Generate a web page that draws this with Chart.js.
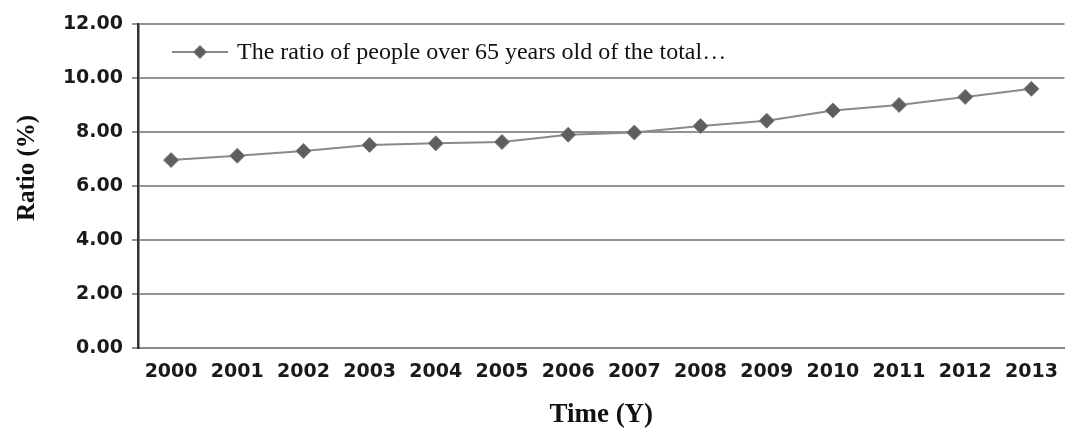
<!DOCTYPE html>
<html>
<head>
<meta charset="utf-8">
<script src="https://cdn.jsdelivr.net/npm/chart.js@4"></script>
<style>
  html, body { margin: 0; padding: 0; background: #fff; overflow: hidden; }
  #wrap { width: 1073px; height: 433px; position: relative; }
</style>
</head>
<body>
<div id="wrap"><canvas id="chart"></canvas></div>
<script>
const years = ['2000', '2001', '2002', '2003', '2004', '2005', '2006', '2007', '2008', '2009', '2010', '2011', '2012', '2013'];
const ratioOver65 = [6.96, 7.12, 7.3, 7.52, 7.58, 7.63, 7.9, 7.98, 8.22, 8.42, 8.8, 9.0, 9.3, 9.6];
const seriesLabel = 'The ratio of people over 65 years old of the total\u2026';
const yTitle = 'Ratio (%)';
const yTicks = [0, 2, 4, 6, 8, 10, 12];

// legend drawn inside the plot, top left, line + diamond like the original
// plus the y title, which sits a bit above the axis middle in the original
const insideLegend = {
  id: 'insideLegend',
  afterDraw(chart) {
    const ctx = chart.ctx;
    const area = chart.chartArea;
    const y = area.top + 28;
    const x0 = area.left + 34;
    ctx.save();
    ctx.strokeStyle = '#8a8a8a';
    ctx.lineWidth = 2;
    ctx.beginPath();
    ctx.moveTo(x0, y);
    ctx.lineTo(x0 + 56, y);
    ctx.stroke();
    ctx.fillStyle = '#5e5e5e';
    ctx.strokeStyle = '#7a7a7a';
    ctx.lineWidth = 1;
    Chart.helpers.drawPoint(ctx, { pointStyle: 'rectRot', radius: 6.5, borderWidth: 1 }, x0 + 28, y);
    ctx.fillStyle = '#111';
    ctx.font = '24px "Liberation Serif", "Times New Roman", serif';
    ctx.textBaseline = 'middle';
    ctx.fillText(seriesLabel, x0 + 65, y + 1);

    ctx.translate(28, area.top + 144);
    ctx.rotate(-Math.PI / 2);
    ctx.textAlign = 'center';
    ctx.font = 'bold 25px "Liberation Serif", "Times New Roman", serif';
    ctx.fillText(yTitle, 0, 0);
    ctx.restore();
  }
};

const ctx = document.getElementById('chart').getContext('2d');
const chart = new Chart(ctx, {
  type: 'line',
  data: {
    labels: years,
    datasets: [{
      label: seriesLabel,
      data: ratioOver65,
      borderColor: '#8a8a8a',
      borderWidth: 2,
      pointStyle: 'rectRot',
      pointRadius: 7.5,
      pointBackgroundColor: '#5e5e5e',
      pointBorderColor: '#7a7a7a',
      pointBorderWidth: 1,
      tension: 0,
      fill: false
    }]
  },
  options: {
    responsive: true,
    maintainAspectRatio: false,
    animation: false,
    layout: { padding: { top: 24, right: 0, left: 0, bottom: 0 } },
    plugins: {
      legend: { display: false },
      tooltip: { enabled: false }
    },
    scales: {
      x: {
        offset: true,
        grid: { display: false, drawTicks: false },
        border: { display: true, color: '#8a8a8a', width: 2 },
        ticks: {
          color: '#1a1a1a',
          padding: 13,
          maxRotation: 0,
          autoSkip: false,
          font: { family: '"DejaVu Sans", sans-serif', size: 19, weight: 'bold' }
        },
        title: {
          display: true,
          text: 'Time (Y)',
          color: '#111',
          padding: { top: 4, bottom: 4 },
          font: { family: '"Liberation Serif", "Times New Roman", serif', size: 27, weight: 'bold', lineHeight: 1 }
        },
        afterFit(scale) { scale.height = 85; }
      },
      y: {
        min: 0,
        max: 12,
        afterBuildTicks(scale) { scale.ticks = yTicks.map(v => ({ value: v })); },
        grid: { color: '#939393', lineWidth: 2, drawTicks: true, tickLength: 6 },
        border: { display: true, color: '#333', width: 2.5 },
        ticks: {
          color: '#1a1a1a',
          padding: 9,
          font: { family: '"DejaVu Sans", sans-serif', size: 19, weight: 'bold' },
          callback: v => Number(v).toFixed(2)
        },
        afterFit(scale) { scale.width = 138; }
      }
    }
  },
  plugins: [insideLegend]
});
</script>
</body>
</html>
